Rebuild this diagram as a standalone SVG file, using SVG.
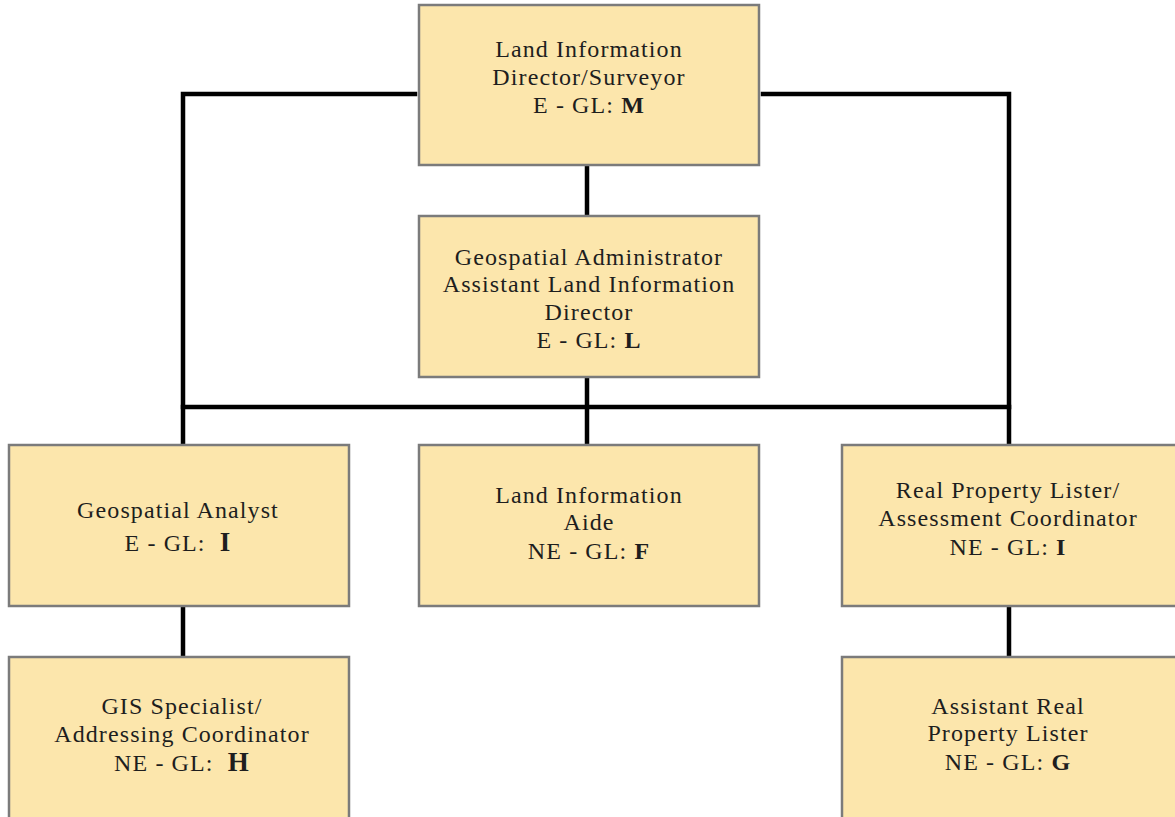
<svg xmlns="http://www.w3.org/2000/svg" width="1175" height="817" viewBox="0 0 1175 817">
<style>
.box{fill:#fce6ac;stroke:#7b7b7b;stroke-width:2.5}
.ln{stroke:#000;stroke-width:4.5;fill:none;stroke-linecap:square}
text{font-family:"Liberation Serif","Times New Roman",serif;font-size:24px;fill:#1e1e1e;text-anchor:middle;letter-spacing:1.1px}
.b{font-weight:bold}
</style>
<rect width="1175" height="817" fill="#fff"/>
<g id="connectors">
<path class="ln" d="M415 94 H183 V445"/>
<path class="ln" d="M763 94 H1009 V445"/>
<path class="ln" d="M587 165 V216"/>
<path class="ln" d="M587 377 V445"/>
<path class="ln" d="M183 407 H1009"/>
<path class="ln" d="M183 606 V657"/>
<path class="ln" d="M1009 606 V657"/>
</g>
<g id="n1"><rect class="box" x="419" y="5" width="340" height="160"/>
<text x="589" y="57">Land Information</text>
<text x="589" y="85">Director/Surveyor</text>
<text x="589" y="113">E - GL: <tspan class="b">M</tspan></text></g>
<g id="n2"><rect class="box" x="419" y="216" width="340" height="161"/>
<text x="589" y="265">Geospatial Administrator</text>
<text x="589" y="292">Assistant Land Information</text>
<text x="589" y="320">Director</text>
<text x="589" y="348">E - GL: <tspan class="b">L</tspan></text></g>
<g id="n3"><rect class="box" x="9" y="445" width="340" height="161"/>
<text x="178" y="518">Geospatial Analyst</text>
<text x="178" y="551" xml:space="preserve">E - GL:  <tspan class="b" style="font-size:27px">I</tspan></text></g>
<g id="n4"><rect class="box" x="419" y="445" width="340" height="161"/>
<text x="589" y="503">Land Information</text>
<text x="589" y="530">Aide</text>
<text x="589" y="559">NE - GL: <tspan class="b">F</tspan></text></g>
<g id="n5"><rect class="box" x="842" y="445" width="340" height="161"/>
<text x="1008" y="498">Real Property Lister/</text>
<text x="1008" y="526">Assessment Coordinator</text>
<text x="1008" y="555">NE - GL: <tspan class="b">I</tspan></text></g>
<g id="n6"><rect class="box" x="9" y="657" width="340" height="170"/>
<text x="182" y="714">GIS Specialist/</text>
<text x="182" y="742">Addressing Coordinator</text>
<text x="182" y="771" xml:space="preserve">NE - GL:  <tspan class="b" style="font-size:27px">H</tspan></text></g>
<g id="n7"><rect class="box" x="842" y="657" width="340" height="170"/>
<text x="1008" y="714">Assistant Real</text>
<text x="1008" y="741">Property Lister</text>
<text x="1008" y="770">NE - GL: <tspan class="b">G</tspan></text></g>
</svg>
